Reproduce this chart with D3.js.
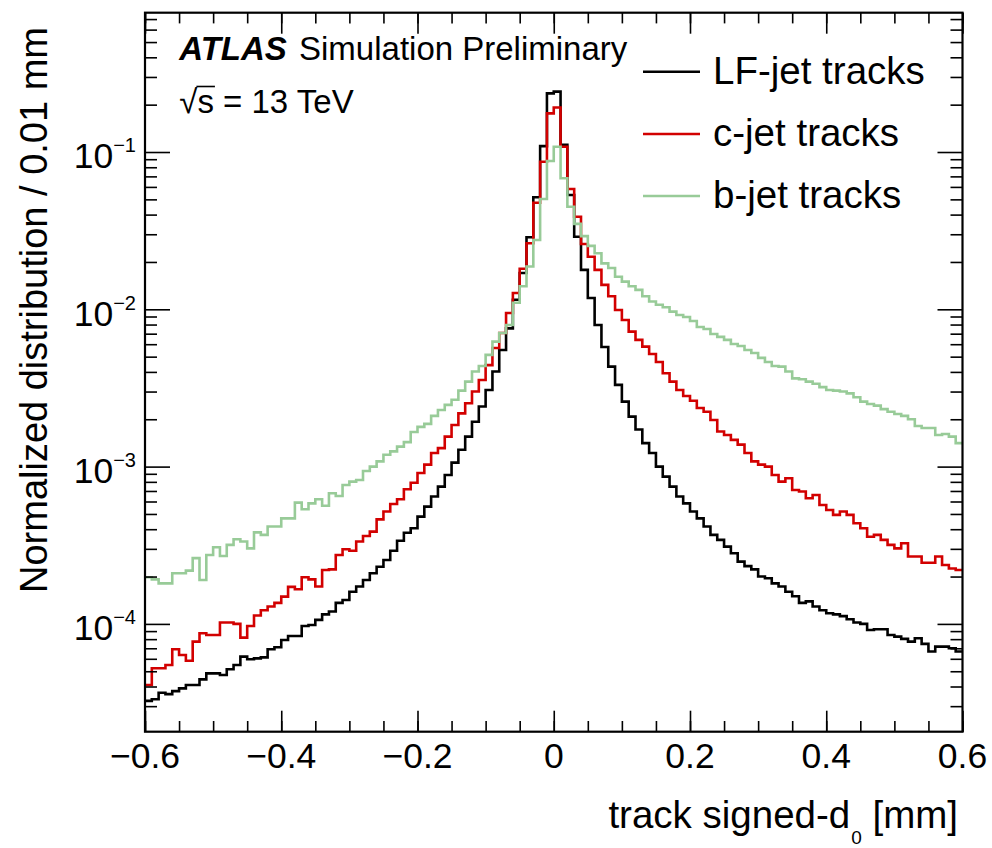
<!DOCTYPE html>
<html>
<head>
<meta charset="utf-8">
<script src="https://cdn.jsdelivr.net/npm/d3@7"></script>
<style>
    html, body { margin: 0; padding: 0; background: #fff; }
    svg { display: block; font-family: "Liberation Sans", Arial, Helvetica, sans-serif; }
</style>
</head>
<body>
<svg id="chart"></svg>
<script>
// histogram binning (0.01 mm bins)
var xMin = -0.6, xMax = 0.6, binWidth = 0.01;
var xTickValues = [-0.6, -0.4, -0.2, 0, 0.2, 0.4, 0.6];
var xTickLabels = ['\u22120.6', '\u22120.4', '\u22120.2', '0', '0.2', '0.4', '0.6'];
var yTickValues = [1e-4, 1e-3, 1e-2, 1e-1];
var yTickExponents = ['\u22124', '\u22123', '\u22122', '\u22121'];

var seriesNames = ['LF-jet tracks', 'c-jet tracks', 'b-jet tracks'];
var seriesColors = ['#000000', '#d20000', '#98cb98'];

// normalized entries per bin
var lfJet = [
    3.24e-5, 3.32e-5, 3.65e-5, 3.58e-5, 3.74e-5, 3.89e-5, 4.09e-5, 4.09e-5, 4.44e-5, 4.85e-5,
    4.85e-5, 4.73e-5, 5.15e-5, 5.48e-5, 6.19e-5, 5.96e-5, 6.04e-5, 6.13e-5, 6.90e-5, 7.11e-5,
    7.90e-5, 8.38e-5, 8.38e-5, 9.70e-5, 9.84e-5, 1.06e-4, 1.15e-4, 1.20e-4, 1.36e-4, 1.42e-4,
    1.60e-4, 1.73e-4, 1.90e-4, 2.10e-4, 2.31e-4, 2.55e-4, 2.92e-4, 3.38e-4, 3.80e-4, 4.06e-4,
    4.81e-4, 5.57e-4, 6.45e-4, 7.46e-4, 8.84e-4, 1.06e-3, 1.28e-3, 1.55e-3, 1.93e-3, 2.41e-3,
    3.07e-3, 4.02e-3, 5.51e-3, 7.57e-3, 1.15e-2, 1.70e-2, 2.87e-2, 5.16e-2, 0.109, 0.236,
    0.242, 0.111, 5.33e-2, 2.89e-2, 1.78e-2, 1.18e-2, 7.95e-3, 5.76e-3, 4.32e-3, 3.31e-3,
    2.59e-3, 2.08e-3, 1.72e-3, 1.41e-3, 1.22e-3, 1.00e-3, 8.64e-4, 7.46e-4, 6.45e-4, 5.84e-4,
    5.18e-4, 4.69e-4, 4.16e-4, 3.68e-4, 3.42e-4, 3.10e-4, 2.81e-4, 2.49e-4, 2.33e-4, 2.22e-4,
    2.00e-4, 1.95e-4, 1.81e-4, 1.73e-4, 1.60e-4, 1.50e-4, 1.36e-4, 1.39e-4, 1.29e-4, 1.22e-4,
    1.17e-4, 1.15e-4, 1.12e-4, 1.07e-4, 1.02e-4, 1.00e-4, 9.14e-5, 9.24e-5, 9.24e-5, 8.50e-5,
    8.30e-5, 8.03e-5, 7.71e-5, 8.10e-5, 7.46e-5, 6.67e-5, 7.17e-5, 7.17e-5, 7.00e-5, 6.67e-5
];
var cJet = [
    4.09e-5, 5.23e-5, 5.23e-5, 5.48e-5, 6.90e-5, 6.35e-5, 5.83e-5, 7.71e-5, 8.72e-5, 8.50e-5,
    8.50e-5, 1.02e-4, 1.02e-4, 1.00e-4, 8.18e-5, 9.70e-5, 1.13e-4, 1.22e-4, 1.29e-4, 1.36e-4,
    1.49e-4, 1.72e-4, 1.66e-4, 1.98e-4, 1.92e-4, 1.73e-4, 2.20e-4, 2.22e-4, 2.74e-4, 2.98e-4,
    2.92e-4, 3.34e-4, 3.62e-4, 3.86e-4, 4.62e-4, 5.18e-4, 5.79e-4, 6.20e-4, 7.18e-4, 7.90e-4,
    9.10e-4, 1.03e-3, 1.22e-3, 1.31e-3, 1.55e-3, 1.84e-3, 2.18e-3, 2.53e-3, 3.00e-3, 3.55e-3,
    4.42e-3, 5.68e-3, 7.07e-3, 9.47e-3, 1.27e-2, 1.81e-2, 2.63e-2, 4.76e-2, 8.68e-2, 0.176,
    0.192, 0.108, 5.82e-2, 3.88e-2, 2.60e-2, 2.16e-2, 1.78e-2, 1.43e-2, 1.21e-2, 9.90e-3,
    8.55e-3, 7.21e-3, 6.39e-3, 5.79e-3, 5.20e-3, 4.62e-3, 3.92e-3, 3.47e-3, 3.07e-3, 2.81e-3,
    2.62e-3, 2.36e-3, 2.23e-3, 1.98e-3, 1.67e-3, 1.59e-3, 1.48e-3, 1.38e-3, 1.22e-3, 1.08e-3,
    1.03e-3, 1.00e-3, 8.84e-4, 8.03e-4, 8.43e-4, 7.10e-4, 6.94e-4, 6.29e-4, 6.60e-4, 5.70e-4,
    5.30e-4, 4.93e-4, 5.18e-4, 4.93e-4, 4.36e-4, 4.06e-4, 3.58e-4, 3.68e-4, 3.42e-4, 3.18e-4,
    3.02e-4, 3.26e-4, 2.68e-4, 2.68e-4, 2.45e-4, 2.45e-4, 2.68e-4, 2.37e-4, 2.25e-4, 2.20e-4
];
var bJet = [
    1.98e-4, 1.92e-4, 1.81e-4, 1.81e-4, 2.10e-4, 2.10e-4, 2.18e-4, 2.62e-4, 1.90e-4, 2.74e-4,
    3.07e-4, 2.70e-4, 3.18e-4, 3.45e-4, 3.34e-4, 3.02e-4, 3.82e-4, 3.68e-4, 4.16e-4, 4.16e-4,
    4.69e-4, 4.69e-4, 5.90e-4, 5.36e-4, 5.84e-4, 6.20e-4, 5.64e-4, 6.77e-4, 6.51e-4, 7.64e-4,
    8.03e-4, 8.22e-4, 9.38e-4, 1.00e-3, 1.08e-3, 1.19e-3, 1.25e-3, 1.34e-3, 1.43e-3, 1.66e-3,
    1.79e-3, 1.87e-3, 2.10e-3, 2.29e-3, 2.47e-3, 2.66e-3, 3.04e-3, 3.47e-3, 4.02e-3, 4.36e-3,
    5.13e-3, 6.23e-3, 7.07e-3, 7.95e-3, 1.10e-2, 1.40e-2, 1.87e-2, 2.76e-2, 5.03e-2, 8.77e-2,
    0.108, 6.81e-2, 4.49e-2, 3.49e-2, 2.92e-2, 2.53e-2, 2.27e-2, 1.96e-2, 1.83e-2, 1.61e-2,
    1.50e-2, 1.40e-2, 1.33e-2, 1.21e-2, 1.12e-2, 1.07e-2, 1.03e-2, 9.66e-3, 9.20e-3, 8.93e-3,
    8.43e-3, 7.72e-3, 7.49e-3, 6.97e-3, 6.68e-3, 6.39e-3, 6.02e-3, 5.84e-3, 5.51e-3, 5.28e-3,
    4.91e-3, 4.62e-3, 4.36e-3, 4.32e-3, 4.02e-3, 3.64e-3, 3.59e-3, 3.47e-3, 3.36e-3, 3.20e-3,
    3.07e-3, 3.04e-3, 3.00e-3, 2.92e-3, 2.76e-3, 2.59e-3, 2.50e-3, 2.44e-3, 2.32e-3, 2.23e-3,
    2.16e-3, 2.10e-3, 2.00e-3, 1.81e-3, 1.76e-3, 1.76e-3, 1.59e-3, 1.61e-3, 1.55e-3, 1.41e-3
];

(function () {
    var width = 992, height = 848;
    var left = 145, right = 962.5, top = 12.7, bottom = 731.7;

    var svg = d3.select('#chart').attr('width', width).attr('height', height);

    var x = d3.scaleLinear().domain([xMin, xMax]).range([left, right]);
    var y = d3.scaleLog().domain([2.064e-5, 0.7685]).range([bottom, top]);

    // histograms as step outlines
    var series = [lfJet, cJet, bJet];
    var line = d3.line()
        .x(function (d) { return x(d[0]); })
        .y(function (d) { return y(d[1]); })
        .curve(d3.curveStepAfter);

    var plot = svg.append('g');
    plot.append('clipPath').attr('id', 'clip')
        .append('rect').attr('x', left).attr('y', top).attr('width', right - left).attr('height', bottom - top);

    series.forEach(function (vals, k) {
        var pts = d3.range(vals.length + 1).map(function (i) {
            return [xMin + i * binWidth, vals[Math.min(i, vals.length - 1)]];
        });
        plot.append('path')
            .attr('d', line(pts))
            .attr('clip-path', 'url(#clip)')
            .attr('fill', 'none')
            .attr('stroke', seriesColors[k])
            .attr('stroke-width', 2.6);
    });

    // ticks on all four sides, pointing inward
    var xMinor = d3.range(25).map(function (i) { return xMin + i * 0.05; });
    var yMinor = [];
    d3.range(-5, 1).forEach(function (e) {
        d3.range(2, 10).forEach(function (m) {
            var v = m * Math.pow(10, e);
            if (v > y.domain()[0] && v < y.domain()[1]) yMinor.push(v);
        });
    });

    function ticks(axis, vals, size, tx, ty) {
        var g = svg.append('g').attr('transform', 'translate(' + tx + ',' + ty + ')')
            .call(axis.tickValues(vals).tickSize(size).tickFormat(''));
        g.select('.domain').remove();
        g.selectAll('line').attr('stroke', '#000').attr('stroke-width', 1.6);
    }
    ticks(d3.axisTop(x), xMinor, 10.7, 0, bottom);
    ticks(d3.axisTop(x), xTickValues, 21, 0, bottom);
    ticks(d3.axisBottom(x), xMinor, 10.7, 0, top);
    ticks(d3.axisBottom(x), xTickValues, 21, 0, top);
    ticks(d3.axisRight(y), yMinor, 12, left, 0);
    ticks(d3.axisRight(y), yTickValues, 25, left, 0);
    ticks(d3.axisLeft(y), yMinor, 12, right, 0);
    ticks(d3.axisLeft(y), yTickValues, 25, right, 0);

    // frame
    svg.append('rect')
        .attr('x', left).attr('y', top)
        .attr('width', right - left).attr('height', bottom - top)
        .attr('fill', 'none').attr('stroke', '#000').attr('stroke-width', 2.2);

    // x tick labels
    svg.selectAll('.xlab').data(xTickValues).enter().append('text')
        .attr('class', 'xlab')
        .attr('x', function (d) { return x(d); })
        .attr('y', 768)
        .attr('text-anchor', 'middle')
        .attr('font-size', 35.5)
        .text(function (d, i) { return xTickLabels[i]; });

    // y tick labels 10^n
    var ylab = svg.selectAll('.ylab').data(yTickValues).enter().append('text')
        .attr('class', 'ylab')
        .attr('x', 136)
        .attr('y', function (d) { return y(d) + 16.3; })
        .attr('text-anchor', 'end')
        .attr('font-size', 35.5);
    ylab.append('tspan').text('10');
    ylab.append('tspan').attr('font-size', 20).attr('dy', -16)
        .text(function (d, i) { return yTickExponents[i]; });

    // axis titles
    var xt = svg.append('text')
        .attr('x', 958).attr('y', 828)
        .attr('text-anchor', 'end')
        .attr('font-size', 38.5);
    xt.append('tspan').text('track signed-d');
    xt.append('tspan').attr('font-size', 19).attr('dy', 16).attr('dx', 1).text('0');
    xt.append('tspan').attr('dy', -16).text(' [mm]');

    svg.append('text')
        .attr('transform', 'translate(47,27) rotate(-90)')
        .attr('text-anchor', 'end')
        .attr('font-size', 38)
        .text('Normalized distribution / 0.01 mm');

    // ATLAS label
    var lab = svg.append('text').attr('x', 179.3).attr('y', 60).attr('font-size', 33);
    lab.append('tspan').attr('font-weight', 'bold').attr('font-style', 'italic').text('ATLAS');
    lab.append('tspan').attr('dx', 3).text(' Simulation Preliminary');

    var sq = svg.append('text').attr('x', 179.3).attr('y', 113.3).attr('font-size', 33)
        .text('\u221As = 13 TeV');
    var n = sq.node();
    var s0 = n.getStartPositionOfChar(1), s1 = n.getEndPositionOfChar(1);
    svg.append('line')
        .attr('x1', s0.x - 1).attr('x2', s1.x + 1)
        .attr('y1', 86.5).attr('y2', 86.5)
        .attr('stroke', '#000').attr('stroke-width', 1.6);

    // legend
    var legY = [71.7, 134, 196];
    seriesNames.forEach(function (name, k) {
        svg.append('line')
            .attr('x1', 643).attr('x2', 700)
            .attr('y1', legY[k]).attr('y2', legY[k])
            .attr('stroke', seriesColors[k]).attr('stroke-width', 2.6);
        svg.append('text')
            .attr('x', 713).attr('y', legY[k] + 12)
            .attr('font-size', 38.5)
            .text(name);
    });
})();
</script>
</body>
</html>
